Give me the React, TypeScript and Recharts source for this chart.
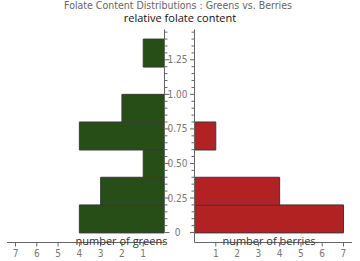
import React from 'react';
import { BarChart, Bar, XAxis, YAxis, Label, ReferenceLine } from 'recharts';

// histogram bins of relative folate content (bin centres, width 0.2)
const binCenters = [0.1, 0.3, 0.5, 0.7, 0.9, 1.1, 1.3];
const greenCounts = [4, 3, 1, 4, 2, 0, 1];
const berryCounts = [7, 4, 0, 1, 0, 0, 0];

const countTicks = [1, 2, 3, 4, 5, 6, 7];
const folateTicks = [
  0, 0.05, 0.1, 0.15, 0.2, 0.25, 0.3, 0.35, 0.4, 0.45, 0.5, 0.55, 0.6, 0.65, 0.7,
  0.75, 0.8, 0.85, 0.9, 0.95, 1, 1.05, 1.1, 1.15, 1.2, 1.25, 1.3, 1.35, 1.4, 1.45,
];
const folateLabels = [0, 0.25, 0.5, 0.75, 1, 1.25];

const data = binCenters.map((bin, i) => ({
  bin,
  greens: greenCounts[i],
  berries: berryCounts[i],
}));

const narrow = "'Liberation Sans Narrow', 'DejaVu Sans Condensed', Roboto, sans-serif";
const sans = "'Open Sans', 'Noto Sans', sans-serif";
const axisColor = '#666';

const isMajor = (v: number) => folateLabels.some((m) => Math.abs(m - v) < 1e-6);
const fmt = (v: number) => (v === 0 ? '0' : v.toFixed(2));

const LeftTick = (props: any) => {
  const { x, y, payload } = props;
  const major = isMajor(payload.value);
  return (
    <g>
      <line x1={x} x2={x + (major ? 5 : 3)} y1={y} y2={y} stroke={axisColor} />
      {major && (
        <text x={x + 13} y={y} dy={3.5} textAnchor="middle" fontSize={10} fontFamily={narrow} fill="#777">
          {fmt(payload.value)}
        </text>
      )}
    </g>
  );
};

const RightTick = (props: any) => {
  const { x, y, payload } = props;
  const major = isMajor(payload.value);
  return <line x1={x} x2={x - (major ? 5 : 3)} y1={y} y2={y} stroke={axisColor} />;
};

const xTick = { fill: '#777', fontSize: 10, fontFamily: narrow };

export default function App() {
  return (
    <div style={{ position: 'absolute', left: 0, top: 0, width: 360, height: 261, background: '#fff' }}>
      <svg width={360} height={30} style={{ position: 'absolute', left: 0, top: 0 }}>
        <text x={178} y={8.5} textAnchor="middle" fontSize={10.5} fontFamily={narrow} fill="#666">
          Folate Content Distributions : Greens vs. Berries
        </text>
        <text x={180} y={22} textAnchor="middle" fontSize={11} fontFamily={sans} fill="#111">
          relative folate content
        </text>
      </svg>

      <div style={{ position: 'absolute', left: 0, top: 0 }}>
        <BarChart
          layout="vertical"
          width={190}
          height={261}
          data={data}
          margin={{ top: 29.4, right: 0, bottom: 0, left: 7 }}
          barCategoryGap={0}
          barGap={0}
        >
          <XAxis
            type="number"
            domain={[0, 7.4]}
            reversed
            ticks={countTicks}
            interval={0}
            tickSize={4}
            tickMargin={3.5}
            height={18.5}
            stroke={axisColor}
            tick={xTick}
            allowDataOverflow
          >
            <Label value="number of greens" position="insideTop" offset={-5} dx={35.75} fontSize={11} fontFamily={sans} fill="#333" />
          </XAxis>
          <YAxis
            type="number"
            dataKey="bin"
            orientation="right"
            reversed
            domain={[-0.072, 1.47]}
            ticks={folateTicks}
            interval={0}
            tick={<LeftTick />}
            tickLine={false}
            axisLine={false}
            tickSize={0}
            tickMargin={0}
            width={25.5}
            stroke={axisColor}
            allowDataOverflow
          />
          <Bar dataKey="greens" fill="#284e18" stroke="#3a3a3a" isAnimationActive={false} />
          <ReferenceLine
            segment={[{ x: 0, y: 0 }, { x: 0, y: 1.47 }]}
            stroke={axisColor}
            ifOverflow="visible"
          />
        </BarChart>
      </div>

      <div style={{ position: 'absolute', left: 190, top: 0 }}>
        <BarChart
          layout="vertical"
          width={170}
          height={261}
          data={data}
          margin={{ top: 29.4, right: 8, bottom: 0, left: 0.5 }}
          barCategoryGap={0}
          barGap={0}
        >
          <XAxis
            type="number"
            domain={[0, 7.4]}
            ticks={countTicks}
            interval={0}
            tickSize={4}
            tickMargin={3.5}
            height={18.5}
            stroke={axisColor}
            tick={xTick}
            allowDataOverflow
          >
            <Label value="number of berries" position="insideTop" offset={-5} dx={-4.25} fontSize={11} fontFamily={sans} fill="#333" />
          </XAxis>
          <YAxis
            type="number"
            dataKey="bin"
            orientation="left"
            reversed
            domain={[-0.072, 1.47]}
            ticks={folateTicks}
            interval={0}
            tick={<RightTick />}
            tickLine={false}
            tickSize={0}
            tickMargin={0}
            width={4}
            stroke={axisColor}
            allowDataOverflow
          />
          <Bar dataKey="berries" fill="#b22222" stroke="#3a3a3a" isAnimationActive={false} />
        </BarChart>
      </div>
    </div>
  );
}
